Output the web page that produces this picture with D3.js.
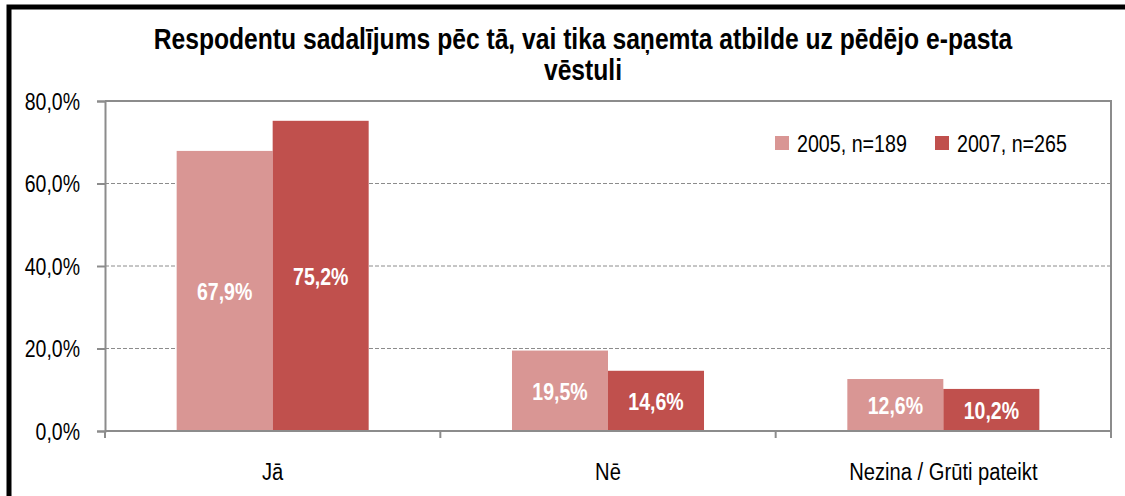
<!DOCTYPE html>
<html>
<head>
<meta charset="utf-8">
<title>Respodentu sadalījums</title>
<style>
body { margin: 0; background: #fff; }
svg { display: block; font-family: "Liberation Sans", Arial, sans-serif; }
.grid line { stroke: #8c8c8c; stroke-width: 1; stroke-dasharray: 4 2; }
.axis path, .axis line { stroke: #8c8c8c; stroke-width: 2; }
.axis text { fill: #000; font-size: 23.5px; }
.lbl { fill: #fff; font-weight: bold; font-size: 23.5px; }
</style>
</head>
<body>
<svg></svg>
<script src="https://d3js.org/d3.v7.min.js"></script>
<script>
const categories = ['Jā', 'Nē', 'Nezina / Grūti pateikt'];
const seriesNames = ['2005, n=189', '2007, n=265'];
const values2005 = [67.9, 19.5, 12.6];
const values2007 = [75.2, 14.6, 10.2];
const yTicks = [0, 20, 40, 60, 80];
const titleLines = ['Respodentu sadalījums pēc tā, vai tika saņemta atbilde uz pēdējo e-pasta', 'vēstuli'];

const colors = ['#d99694', '#c0504d'];
const width = 1125, height = 496;
const plot = { left: 105, right: 1111, top: 101, bottom: 431 };
const k = 0.83; // squeeze to mimic a narrow font

const pct = v => d3.format('.1f')(v).replace('.', ',') + '%';
const place = (x, y) => `translate(${x},${y}) scale(${k},1)`;

const svg = d3.select('svg').attr('width', width).attr('height', height);

// outer chart border (only top and left visible in the picture)
svg.append('rect')
   .attr('x', 9).attr('y', 7)
   .attr('width', width + 20).attr('height', height + 20)
   .attr('fill', '#fff').attr('stroke', '#000').attr('stroke-width', 5);

svg.append('g').selectAll('text')
   .data(titleLines)
   .join('text')
   .attr('text-anchor', 'middle')
   .attr('font-weight', 'bold')
   .attr('font-size', 29.7)
   .attr('transform', (d, i) => place(583, 49 + i * 31))
   .text(d => d);

const x = d3.scaleBand(categories, [plot.left, plot.right]).paddingInner(0.4274).paddingOuter(0.2137);
const xs = d3.scaleBand([0, 1], [0, x.bandwidth()]);
const y = d3.scaleLinear([0, 80], [plot.bottom, plot.top]);

// gridlines
svg.append('g').attr('class', 'grid')
   .selectAll('line')
   .data(yTicks.filter(t => t > 0))
   .join('line')
   .attr('x1', plot.left).attr('x2', plot.right)
   .attr('y1', d => y(d)).attr('y2', d => y(d));

// plot border top / right
svg.append('path')
   .attr('d', `M${plot.left},${y(80)}H${plot.right}V${plot.bottom}`)
   .attr('fill', 'none').attr('stroke', '#8c8c8c').attr('stroke-width', 2);

const rows = categories.map((c, i) => ({ c, v: [values2005[i], values2007[i]] }));

const grp = svg.append('g').selectAll('g')
   .data(rows).join('g')
   .attr('transform', d => `translate(${x(d.c)},0)`);

grp.selectAll('rect')
   .data(d => d.v)
   .join('rect')
   .attr('x', (d, i) => xs(i))
   .attr('width', xs.bandwidth())
   .attr('y', d => y(d))
   .attr('height', d => y(0) - y(d))
   .attr('fill', (d, i) => colors[i]);

grp.selectAll('text')
   .data(d => d.v)
   .join('text')
   .attr('class', 'lbl')
   .attr('text-anchor', 'middle')
   .attr('dy', '0.36em')
   .attr('transform', (d, i) => place(xs(i) + xs.bandwidth() / 2, (y(d) + y(0)) / 2 + 1))
   .text(d => pct(d));

// axes
const yAxis = svg.append('g').attr('class', 'axis')
   .attr('transform', `translate(${plot.left},0)`)
   .call(d3.axisLeft(y).tickValues(yTicks).tickSize(8).tickFormat(pct));
yAxis.selectAll('text')
   .attr('x', 0).attr('dy', '0.36em')
   .attr('transform', place(-25, 0));

const xEdges = d3.scaleLinear([0, categories.length], [plot.left, plot.right]);
const xAxis = svg.append('g').attr('class', 'axis')
   .attr('transform', `translate(0,${plot.bottom})`);
xAxis.append('path').attr('d', `M${plot.left},0H${plot.right}`);
xAxis.selectAll('line')
   .data(d3.range(categories.length + 1))
   .join('line')
   .attr('x1', d => xEdges(d)).attr('x2', d => xEdges(d))
   .attr('y1', 0).attr('y2', 7);
xAxis.selectAll('text')
   .data(categories)
   .join('text')
   .attr('text-anchor', 'middle')
   .style('font-size', '24.3px')
   .attr('transform', d => place(x(d) + x.bandwidth() / 2, 49))
   .text(d => d);

// legend
const legX = [775, 935];
const leg = svg.append('g').selectAll('g')
   .data(seriesNames).join('g')
   .attr('transform', (d, i) => `translate(${legX[i]},136)`);
leg.append('rect').attr('width', 14).attr('height', 14).attr('fill', (d, i) => colors[i]);
leg.append('text').attr('font-size', 23.7).attr('transform', place(22, 16)).text(d => d);
</script>
</body>
</html>
